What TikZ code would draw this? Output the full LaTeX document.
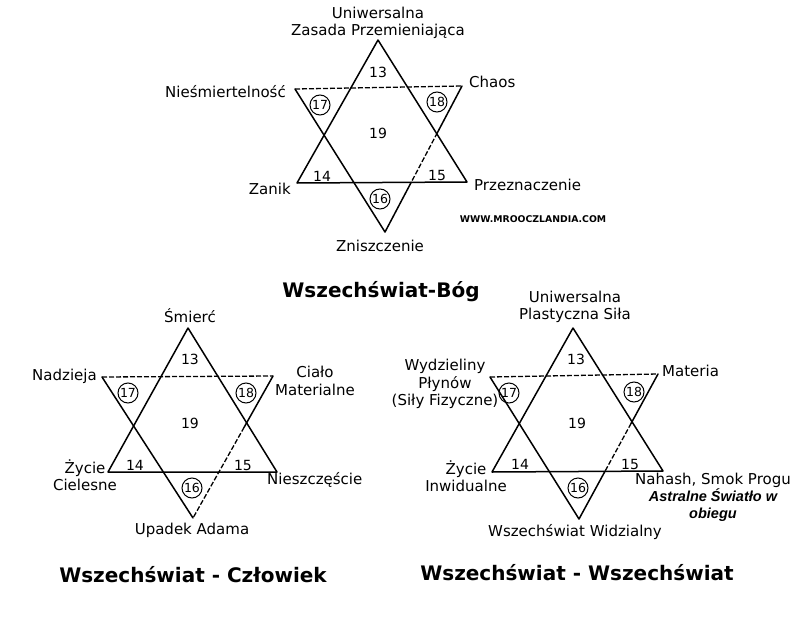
\documentclass[tikz,border=0pt]{standalone}
\usepackage{fontspec}
\setmainfont{DejaVu Sans}
\newfontfamily\arialfont{Liberation Sans}
\usepackage{tikz}
\usetikzlibrary{calc,positioning}

\begin{document}
\begin{tikzpicture}[x=1pt, y=-1pt,
  edge/.style={line width=1.5pt, line join=round, line cap=round},
  dashedge/.style={line width=1.3pt, dash pattern=on 5pt off 2pt},
  lbl/.style={font=\fontsize{15}{17.5}\selectfont, align=center, inner sep=0pt},
  num/.style={font=\fontsize{14}{14}\selectfont, inner sep=0pt},
  ring/.style={font=\fontsize{12.5}{12.5}\selectfont, inner sep=0pt, circle, draw, line width=1pt, minimum size=20pt},
  title/.style={font=\bfseries\fontsize{20}{24}\selectfont, inner sep=0pt},
]
\useasboundingbox[fill=white] (0,0) rectangle (800,618);

% Wszechswiat-Bog
\coordinate (ga) at (378,40);
\coordinate (gl) at (297,183);
\coordinate (gr) at (467,182);
\coordinate (gtl) at (295,89);
\coordinate (gtr) at (462,86);
\coordinate (gb) at (385,232);
\coordinate (gc1) at ($(gtr)!0.32!(gb)$);
\coordinate (gc2) at ($(gtr)!0.66!(gb)$);
\draw[edge] (gl) -- (ga) -- (gr) -- cycle;
\draw[edge] (gtl) -- (gb);
\draw[dashedge] (gtl) -- (gtr);
\draw[edge] (gtr) -- (gc1);
\draw[dashedge] (gc1) -- (gc2);
\draw[edge] (gc2) -- (gb);
\node[num] (g13) at (378,72) {13};
\node[ring] (g17) at (320,105) {17};
\node[ring] (g18) at (437,102) {18};
\node[num] (g19) at (378,133) {19};
\node[num] (g14) at (322,176) {14};
\node[num] (g15) at (437,175) {15};
\node[ring] (g16) at (380,199) {16};
\node[lbl] (gtop) at (378,23) {Uniwersalna\\Zasada Przemieniająca};
\node[lbl, anchor=east] (gleft) at (286,92) {Nieśmiertelność};
\node[lbl, anchor=west] (gright) at (469,82) {Chaos};
\node[lbl, anchor=east] (gbl) at (291,189) {Zanik};
\node[lbl, anchor=west] (gbr) at (474,185) {Przeznaczenie};
\node[lbl] (gbot) at (380,246) {Zniszczenie};
\node[font=\bfseries\fontsize{9.3}{11}\selectfont, inner sep=0pt] (site) at (533,219) {WWW.MROOCZLANDIA.COM};
\node[title] (gname) at (381,292) {Wszechświat-Bóg};

% Wszechswiat - Czlowiek
\coordinate (ca) at (188,328);
\coordinate (cl) at (108,472);
\coordinate (cr) at (277,472);
\coordinate (ctl) at (102,377);
\coordinate (ctr) at (273,376);
\coordinate (cb) at (193,518);
\coordinate (cc1) at ($(ctr)!0.36!(cb)$);
\draw[edge] (cl) -- (ca) -- (cr) -- cycle;
\draw[edge] (ctl) -- (cb);
\draw[dashedge] (ctl) -- (ctr);
\draw[edge] (ctr) -- (cc1);
\draw[dashedge] (cc1) -- (cb);
\node[num] (c13) at (190,359) {13};
\node[ring] (c17) at (128,393) {17};
\node[ring] (c18) at (246,393) {18};
\node[num] (c19) at (190,423) {19};
\node[num] (c14) at (135,465) {14};
\node[num] (c15) at (243,465) {15};
\node[ring] (c16) at (192,488) {16};
\node[lbl] (ctop) at (190,316) {Śmierć};
\node[lbl, anchor=east] (cleft) at (97,376) {Nadzieja};
\node[lbl] (cright) at (315,381) {Ciało\\Materialne};
\node[lbl] (cbl) at (85,475) {Życie\\Cielesne};
\node[lbl, anchor=west] (cbr) at (267,480) {Nieszczęście};
\node[lbl] (cbot) at (192,530) {Upadek Adama};
\node[title] (cname) at (193,575) {Wszechświat - Człowiek};

% Wszechswiat - Wszechswiat
\coordinate (wa) at (573,328);
\coordinate (wl) at (492,472);
\coordinate (wr) at (663,471);
\coordinate (wtl) at (490,377);
\coordinate (wtr) at (658,374);
\coordinate (wb) at (579,519);
\coordinate (wc1) at ($(wtr)!0.34!(wb)$);
\coordinate (wc2) at ($(wtr)!0.67!(wb)$);
\draw[edge] (wl) -- (wa) -- (wr) -- cycle;
\draw[edge] (wtl) -- (wb);
\draw[dashedge] (wtl) -- (wtr);
\draw[edge] (wtr) -- (wc1);
\draw[dashedge] (wc1) -- (wc2);
\draw[edge] (wc2) -- (wb);
\node[num] (w13) at (576,359) {13};
\node[ring] (w17) at (509,393) {17};
\node[ring] (w18) at (634,392) {18};
\node[num] (w19) at (577,423) {19};
\node[num] (w14) at (520,464) {14};
\node[num] (w15) at (630,464) {15};
\node[ring] (w16) at (578,488) {16};
\node[lbl] (wtop) at (575,307) {Uniwersalna\\Plastyczna Siła};
\node[lbl] (wleft) at (445,384) {Wydzieliny\\Płynów\\(Siły Fizyczne)};
\node[lbl, anchor=west] (wright) at (662,371) {Materia};
\node[lbl] (wbr) at (713,480) {Nahash, Smok Progu};
\node[lbl, font=\arialfont\bfseries\itshape\fontsize{14.5}{17}\selectfont, below=1pt of wbr] (wastral) {Astralne Światło w\\obiegu};
\node[lbl] (wbl) at (466,476) {Życie\\Inwidualne};
\node[lbl] (wbot) at (575,532) {Wszechświat Widzialny};
\node[title] (wname) at (577,573) {Wszechświat - Wszechświat};
\end{tikzpicture}
\end{document}
